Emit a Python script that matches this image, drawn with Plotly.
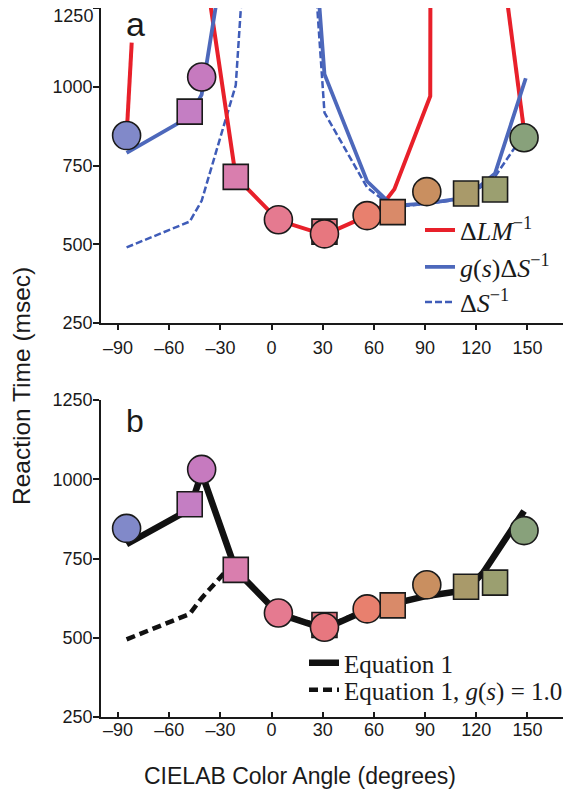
import plotly.graph_objects as go

# ---------------- data ----------------
# measured reaction times (markers)
rt_angle = [-85, -48, -41, -21, 4, 31, 31, 56, 71, 91, 114, 131, 148]
rt_msec = [845, 921, 1031, 714, 578, 540, 533, 591, 602, 667, 661, 674, 838]
rt_symbol = ["circle", "square", "circle", "square", "circle", "square", "circle",
             "circle", "square", "circle", "square", "square", "circle"]
rt_color = ["#8189c9", "#c47ec3", "#c67abf", "#d97eae", "#e57a90", "#df717c", "#e7777f",
            "#e8806e", "#d98a69", "#c98f60", "#a99a6a", "#9b9f70", "#88a17b"]

# panel a: model curves
lm_angle = [-85, -82, None, -41, -21, 4, 31, 56, 64, 72, 93, 93.3, None, 136, 148]
lm_msec = [845, 1140, None, 1450, 714, 576, 530, 590, 618, 675, 970, 2000, None, 1360, 860]

gs_angle = [-85, -48, -41, -21, 4, 31, 56, 71, 91, 114, 131, 149]
gs_msec = [790, 905, 975, 1650, 3000, 1040, 700, 622, 630, 648, 725, 1027]

ds_angle = [-85, -48, -41, -21, 4, 31, 56, 71, 91, 114, 131, 148]
ds_msec = [490, 572, 638, 1005, 3050, 918, 680, 618, 628, 646, 715, 850]

# panel b: Equation 1
eq1_angle = [-85, -48, -41, -21, 4, 31, 56, 71, 91, 114, 124, 148]
eq1_msec = [795, 905, 1020, 714, 576, 528, 588, 608, 632, 650, 705, 900]

eq1g_angle = [-85, -48, -41, -28, -21, 4, 31, 56, 71, 91, 114, 124, 148]
eq1g_msec = [495, 575, 625, 703, 714, 576, 533, 588, 608, 632, 650, 705, 897]

x_ticks = [-90, -60, -30, 0, 30, 60, 90, 120, 150]
x_ticktext = ["\u201390", "\u201360", "\u201330", "0", "30", "60", "90", "120", "150"]
y_ticks = [250, 500, 750, 1000, 1250]
y_ticktext = ["250", "500", "750", "1000", "1250"]

# ---------------- figure ----------------
SANS = "Liberation Sans, Arial, sans-serif"
SERIF = "Liberation Serif, Times New Roman, serif"
INK = "#1a1a1a"

# the page body adds an 8px offset; plot area spans window x 101..565, y 8..717
PL, PW = 101, 464
PB, PH = 717, 709


def px_x(xw):
    return (xw - PL) / PW


def px_y(yw):
    return (PB - yw) / PH


fig = go.Figure()

# panel a lines
fig.add_trace(go.Scatter(x=ds_angle, y=ds_msec, mode="lines", xaxis="x", yaxis="y",
                         line=dict(color="#3f5cb8", width=2.5, dash="7px,3px"),
                         name="Δ<i>S</i><sup>−1</sup>", legend="legend3"))
fig.add_trace(go.Scatter(x=lm_angle, y=lm_msec, mode="lines", xaxis="x", yaxis="y",
                         line=dict(color="#e8202a", width=4), connectgaps=False,
                         name="Δ<i>LM</i><sup>−1</sup>", legend="legend"))
fig.add_trace(go.Scatter(x=gs_angle, y=gs_msec, mode="lines", xaxis="x", yaxis="y",
                         line=dict(color="#4d68bb", width=3.8),
                         name="<i>g</i>(<i>s</i>)Δ<i>S</i><sup>−1</sup>", legend="legend2"))

# panel b lines
fig.add_trace(go.Scatter(x=eq1g_angle, y=eq1g_msec, mode="lines", xaxis="x2", yaxis="y2",
                         line=dict(color="#111111", width=4.5, dash="9px,5px"),
                         name="Equation 1, <i>g</i>(<i>s</i>) = 1.0", legend="legend5"))
fig.add_trace(go.Scatter(x=eq1_angle, y=eq1_msec, mode="lines", xaxis="x2", yaxis="y2",
                         line=dict(color="#111111", width=6.5),
                         name="Equation 1", legend="legend4"))

# markers on both panels
sizes = [25 if s == "square" else 28 for s in rt_symbol]
for xa, ya in (("x", "y"), ("x2", "y2")):
    fig.add_trace(go.Scatter(x=rt_angle, y=rt_msec, mode="markers", xaxis=xa, yaxis=ya,
                             showlegend=False,
                             marker=dict(symbol=rt_symbol, size=sizes, color=rt_color,
                                         opacity=1,
                                         line=dict(color=INK, width=1.6))))

top_dom = [px_y(323), 1.0]
bot_dom = [0.0, px_y(400)]

common = dict(range=[-100, 172], tickmode="array", tickvals=x_ticks, ticktext=x_ticktext,
              showline=True, linecolor=INK, linewidth=1.6, ticklen=5,
              tickwidth=1.6, tickcolor=INK, showgrid=False, zeroline=False, automargin=False,
              tickfont=dict(family=SANS, size=18, color=INK), fixedrange=True)
yax = dict(range=[250, 1250], tickmode="array", tickvals=y_ticks, ticktext=y_ticktext,
           showline=True, linecolor=INK, linewidth=1.6, ticks="outside", ticklen=6,
           tickwidth=1.6, tickcolor=INK, showgrid=False, zeroline=False, automargin=False,
           ticklabelstandoff=-3,
           tickfont=dict(family=SANS, size=18, color=INK), fixedrange=True)

# top panel: the top label (1250) sits a little lower than its tick, drawn by an overlay axis
top_labels = y_ticktext[:-1] + [""]
yax_top_label = dict(yax, overlaying="y", anchor="x", side="left", showline=False,
                     tickvals=y_ticks[-1:], ticktext=y_ticktext[-1:],
                     tickcolor="rgba(0,0,0,0)", ticklabelshift=8, ticklabeloverflow="allow")


def leg(xw, yw, size):
    return dict(x=px_x(xw), xanchor="left", y=px_y(yw), yanchor="middle",
                bgcolor="rgba(0,0,0,0)", borderwidth=0,
                font=dict(family=SERIF, size=size, color=INK), itemwidth=30)


fig.update_layout(
    width=571, height=800,
    margin=dict(l=93, r=14, t=0, b=91, autoexpand=False),
    paper_bgcolor="white", plot_bgcolor="white",
    xaxis=dict(common, anchor="y", domain=[0, 1], ticks="outside", ticklabelstandoff=3),
    yaxis=dict(yax, anchor="x", domain=top_dom, ticktext=top_labels),
    yaxis3=dict(yax_top_label, domain=top_dom),
    xaxis2=dict(common, anchor="y2", domain=[0, 1], ticks="inside", ticklabelstandoff=-4),
    yaxis2=dict(yax, anchor="x2", domain=bot_dom),
    legend=leg(420, 230, 26),
    legend2=leg(420, 267, 26),
    legend3=leg(420, 302, 26),
    legend4=leg(304, 663, 25),
    legend5=leg(304, 690, 25),
    annotations=[
        dict(text="a", x=px_x(135), y=px_y(24), xref="paper", yref="paper",
             xanchor="center", yanchor="middle",
             showarrow=False, font=dict(family=SANS, size=34, color=INK)),
        dict(text="b", x=px_x(135), y=px_y(421), xref="paper", yref="paper",
             xanchor="center", yanchor="middle",
             showarrow=False, font=dict(family=SANS, size=32, color=INK)),
        dict(text="Reaction Time (msec)", x=px_x(21), y=px_y(386),
             xref="paper", yref="paper", showarrow=False, textangle=-90,
             xanchor="center", yanchor="middle",
             font=dict(family=SANS, size=24.5, color=INK)),
        dict(text="CIELAB Color Angle (degrees)", x=px_x(300), y=px_y(776),
             xref="paper", yref="paper", showarrow=False,
             xanchor="center", yanchor="middle",
             font=dict(family=SANS, size=23, color=INK)),
    ],
)

# a dummy invisible trace anchors the overlay axis
fig.add_trace(go.Scatter(x=[None], y=[None], xaxis="x", yaxis="y3", showlegend=False,
                         hoverinfo="skip"))

fig.write_html("out.html")
